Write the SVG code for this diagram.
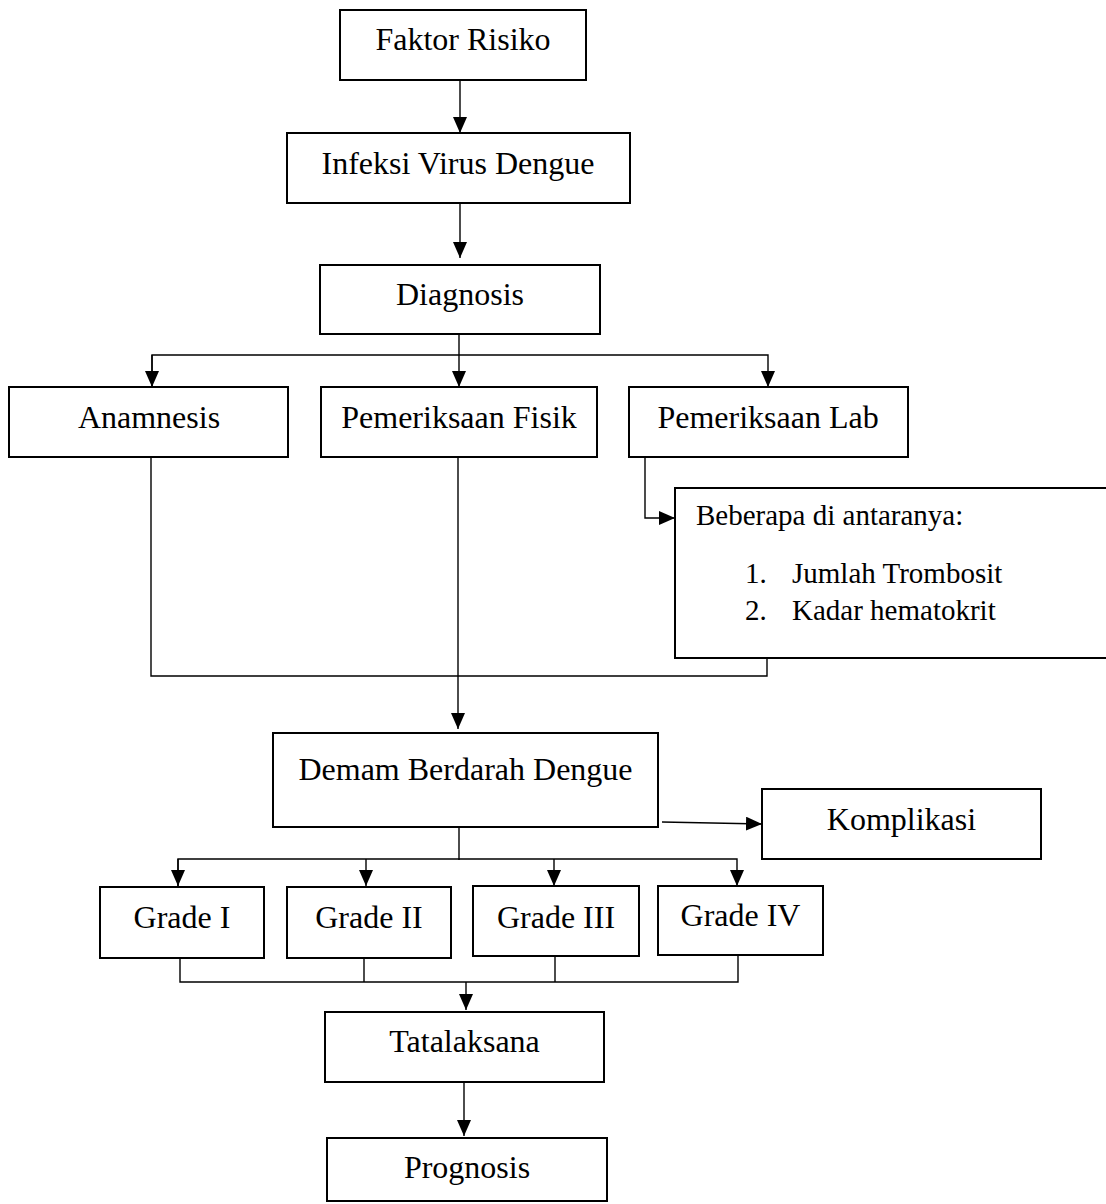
<svg xmlns="http://www.w3.org/2000/svg" width="1106" height="1204" viewBox="0 0 1106 1204">
<style>
  .box { fill: #fff; stroke: #000; stroke-width: 2; }
  .lbl { font-family: "Liberation Serif", "Times New Roman", serif; font-size: 32px; fill: #000; text-anchor: middle; }
  .sub { font-family: "Liberation Serif", "Times New Roman", serif; font-size: 29px; fill: #000; }
  .con { fill: none; stroke: #000; stroke-width: 1.4; }
</style>
<defs>
  <marker id="arr" markerUnits="userSpaceOnUse" markerWidth="16" markerHeight="14" refX="16" refY="7" orient="auto">
    <path d="M0,0 L16,7 L0,14 Z" fill="#000"/>
  </marker>
</defs>
<rect width="1106" height="1204" fill="#fff"/>

<g id="connectors">
  <line class="con" x1="460" y1="80" x2="460" y2="133" marker-end="url(#arr)"/>
  <line class="con" x1="460" y1="203" x2="460" y2="258" marker-end="url(#arr)"/>
  <line class="con" x1="459" y1="334" x2="459" y2="355"/>
  <polyline class="con" points="152,387 152,355 768,355 768,387" marker-end="url(#arr)"/>
  <line class="con" x1="152" y1="355" x2="152" y2="387" marker-end="url(#arr)"/>
  <line class="con" x1="459" y1="355" x2="459" y2="387" marker-end="url(#arr)"/>
  <polyline class="con" points="645,457 645,518 675,518" marker-end="url(#arr)"/>
  <polyline class="con" points="151,457 151,676 767,676 767,658"/>
  <line class="con" x1="458" y1="458" x2="458" y2="729" marker-end="url(#arr)"/>
  <line class="con" x1="662" y1="822" x2="762" y2="824" marker-end="url(#arr)"/>
  <line class="con" x1="459" y1="827" x2="459" y2="860"/>
  <polyline class="con" points="178,886 178,859 737,859 737,886" marker-end="url(#arr)"/>
  <line class="con" x1="178" y1="859" x2="178" y2="886" marker-end="url(#arr)"/>
  <line class="con" x1="366" y1="859" x2="366" y2="886" marker-end="url(#arr)"/>
  <line class="con" x1="554" y1="859" x2="554" y2="886" marker-end="url(#arr)"/>
  <polyline class="con" points="180,957 180,982 738,982 738,956"/>
  <line class="con" x1="364" y1="957" x2="364" y2="982"/>
  <line class="con" x1="555" y1="957" x2="555" y2="982"/>
  <line class="con" x1="466" y1="982" x2="466" y2="1010" marker-end="url(#arr)"/>
  <line class="con" x1="464" y1="1082" x2="464" y2="1136" marker-end="url(#arr)"/>
</g>

<g id="faktor-risiko">
  <rect class="box" x="340" y="10" width="246" height="70"/>
  <text class="lbl" x="463" y="50">Faktor Risiko</text>
</g>
<g id="infeksi">
  <rect class="box" x="287" y="133" width="343" height="70"/>
  <text class="lbl" x="458" y="174">Infeksi Virus Dengue</text>
</g>
<g id="diagnosis">
  <rect class="box" x="320" y="265" width="280" height="69"/>
  <text class="lbl" x="460" y="305">Diagnosis</text>
</g>
<g id="anamnesis">
  <rect class="box" x="9" y="387" width="279" height="70"/>
  <text class="lbl" x="149" y="428">Anamnesis</text>
</g>
<g id="fisik">
  <rect class="box" x="321" y="387" width="276" height="70"/>
  <text class="lbl" x="459" y="428">Pemeriksaan Fisik</text>
</g>
<g id="lab">
  <rect class="box" x="629" y="387" width="279" height="70"/>
  <text class="lbl" x="768" y="428">Pemeriksaan Lab</text>
</g>
<g id="lab-detail">
  <rect class="box" x="675" y="488" width="440" height="170"/>
  <text class="sub" x="696" y="525">Beberapa di antaranya:</text>
  <text class="sub" x="745" y="583">1.</text>
  <text class="sub" x="792" y="583">Jumlah Trombosit</text>
  <text class="sub" x="745" y="620">2.</text>
  <text class="sub" x="792" y="620">Kadar hematokrit</text>
</g>
<g id="dbd">
  <rect class="box" x="273" y="733" width="385" height="94"/>
  <text class="lbl" x="465.5" y="780">Demam Berdarah Dengue</text>
</g>
<g id="komplikasi">
  <rect class="box" x="762" y="789" width="279" height="70"/>
  <text class="lbl" x="901.5" y="830">Komplikasi</text>
</g>
<g id="grade1">
  <rect class="box" x="100" y="887" width="164" height="71"/>
  <text class="lbl" x="182" y="928">Grade I</text>
</g>
<g id="grade2">
  <rect class="box" x="287" y="887" width="164" height="71"/>
  <text class="lbl" x="369" y="928">Grade II</text>
</g>
<g id="grade3">
  <rect class="box" x="473" y="886" width="166" height="70"/>
  <text class="lbl" x="556" y="928">Grade III</text>
</g>
<g id="grade4">
  <rect class="box" x="658" y="886" width="165" height="69"/>
  <text class="lbl" x="740.5" y="926">Grade IV</text>
</g>
<g id="tatalaksana">
  <rect class="box" x="325" y="1012" width="279" height="70"/>
  <text class="lbl" x="464.5" y="1052">Tatalaksana</text>
</g>
<g id="prognosis">
  <rect class="box" x="327" y="1138" width="280" height="63"/>
  <text class="lbl" x="467" y="1178">Prognosis</text>
</g>
</svg>
